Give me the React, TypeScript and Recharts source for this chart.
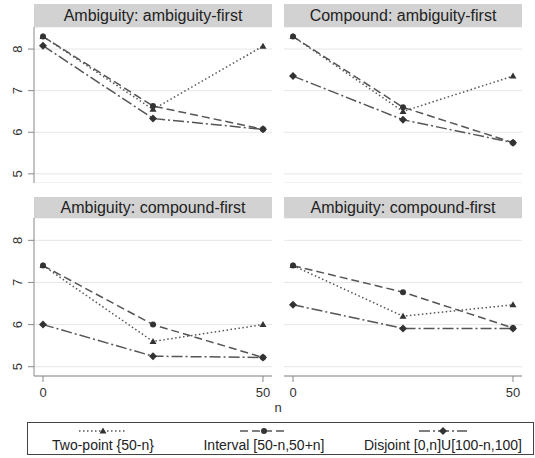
import React from "react";
import { LineChart, Line, XAxis, YAxis, CartesianGrid } from "recharts";

// n values on the x axis
const nValues = [0, 25, 50];
const xTicks = [0, 50];
const yTicks = [5, 6, 7, 8];

const panelTitles = [
  "Ambiguity: ambiguity-first",
  "Compound: ambiguity-first",
  "Ambiguity: compound-first",
  "Ambiguity: compound-first",
];

// one row per panel, values at n = 0, 25, 50
const twoPoint = [
  [8.3, 6.55, 8.07],
  [8.3, 6.5, 7.35],
  [7.4, 5.6, 6.0],
  [7.4, 6.2, 6.47],
];
const interval = [
  [8.3, 6.63, 6.07],
  [8.3, 6.6, 5.75],
  [7.4, 6.0, 5.22],
  [7.4, 6.77, 5.92],
];
const disjoint = [
  [8.08, 6.33, 6.07],
  [7.35, 6.3, 5.75],
  [6.0, 5.25, 5.22],
  [6.47, 5.91, 5.91],
];

const seriesNames = ["Two-point {50-n}", "Interval [50-n,50+n]", "Disjoint [0,n]U[100-n,100]"];

const LINE = "#555";
const MARK = "#333";
const AXIS = "#888";
const FONT = "'Liberation Sans', Arial, sans-serif";

const series = [
  { key: "twoPoint", name: seriesNames[0], dash: "1.5 2.5", marker: "triangle" },
  { key: "interval", name: seriesNames[1], dash: "8 4", marker: "circle" },
  { key: "disjoint", name: seriesNames[2], dash: "11 3 2 3", marker: "diamond" },
];

function Marker({ cx, cy, kind }: any) {
  if (cx == null || cy == null) return null;
  if (kind === "triangle") {
    return <path d={`M${cx},${cy - 3.5} L${cx + 3.5},${cy + 2.5} L${cx - 3.5},${cy + 2.5} Z`} fill={MARK} />;
  }
  if (kind === "diamond") {
    return <path d={`M${cx},${cy - 4} L${cx + 4},${cy} L${cx},${cy + 4} L${cx - 4},${cy} Z`} fill={MARK} />;
  }
  return <circle cx={cx} cy={cy} r={3} fill={MARK} />;
}

function YTick({ x, y, payload }: any) {
  const cx = x - 8;
  return (
    <text
      x={cx}
      y={y}
      transform={`rotate(-90 ${cx} ${y})`}
      textAnchor="middle"
      dominantBaseline="central"
      fontSize={13}
      fontFamily={FONT}
      fill="#333"
    >
      {payload.value}
    </text>
  );
}

function panelData(p: number) {
  return nValues.map((n, i) => ({
    n,
    twoPoint: twoPoint[p][i],
    interval: interval[p][i],
    disjoint: disjoint[p][i],
  }));
}

function Panel({ p, left, top, isLeft, isBottom }: any) {
  const chartLeft = isLeft ? 0 : left;
  const plotLeft = isLeft ? 34 : left;
  const plotW = 238;
  const headerTop = top;
  const headerH = isBottom ? 21 : 23;
  const chartTop = top + headerH;
  const plotH = isBottom ? 158 : 156;
  const axisH = isBottom ? 26 : 0;
  const width = isLeft ? plotW + 34 : plotW;
  return (
    <>
      <div
        style={{
          position: "absolute",
          left: plotLeft,
          top: headerTop,
          width: plotW,
          height: headerH,
          background: "#d2d2d2",
          fontFamily: FONT,
          fontSize: 16,
          color: "#222",
          textAlign: "center",
          lineHeight: `${headerH}px`,
        }}
      >
        {panelTitles[p]}
      </div>
      <div style={{ position: "absolute", left: chartLeft, top: chartTop }}>
        <LineChart
          width={width}
          height={plotH + axisH}
          data={panelData(p)}
          margin={{ top: 0, right: 0, bottom: 0, left: 0 }}
        >
          <CartesianGrid vertical={false} stroke="#e6e6e6" strokeWidth={1} />
          <XAxis
            dataKey="n"
            type="number"
            domain={[-2.05, 52.05]}
            ticks={xTicks}
            allowDataOverflow
            hide={!isBottom}
            height={axisH}
            stroke={AXIS}
            tickSize={6}
            tickMargin={6}
            tick={{ fill: "#333", fontSize: 13, fontFamily: FONT }}
          />
          <YAxis
            type="number"
            domain={[4.78, 8.53]}
            ticks={yTicks}
            allowDataOverflow
            hide={!isLeft}
            width={34}
            stroke={AXIS}
            tickSize={6}
            tick={<YTick />}
          />
          {series.map((s) => (
            <Line
              key={s.key}
              dataKey={s.key}
              name={s.name}
              stroke={LINE}
              strokeWidth={1.5}
              strokeDasharray={s.dash}
              dot={(props: any) => <Marker key={`${s.key}-${props.index}`} {...props} kind={s.marker} />}
              isAnimationActive={false}
            />
          ))}
        </LineChart>
      </div>
    </>
  );
}

function LegendSymbol({ s }: any) {
  return (
    <svg width={48} height={8} style={{ display: "block", margin: "0 auto" }}>
      <line x1={0} y1={4} x2={48} y2={4} stroke={LINE} strokeWidth={1.5} strokeDasharray={s.dash} />
      <Marker cx={24} cy={4} kind={s.marker} />
    </svg>
  );
}

const legendCenters = [75, 236, 415];

export default function App() {
  return (
    <div style={{ position: "absolute", left: 0, top: 0, width: 535, height: 458, background: "#fff", overflow: "hidden" }}>
      <Panel p={0} left={34} top={4} isLeft isBottom={false} />
      <Panel p={1} left={284} top={4} isLeft={false} isBottom={false} />
      <Panel p={2} left={34} top={197} isLeft isBottom />
      <Panel p={3} left={284} top={197} isLeft={false} isBottom />
      <div
        style={{
          position: "absolute",
          left: 0,
          width: 556,
          top: 400,
          textAlign: "center",
          fontFamily: FONT,
          fontSize: 13,
          color: "#333",
        }}
      >
        n
      </div>
      <div
        style={{
          position: "absolute",
          left: 27,
          top: 422,
          width: 507,
          height: 33,
          border: "1px solid #444",
          boxSizing: "border-box",
          fontFamily: FONT,
          fontSize: 14,
          color: "#222",
        }}
      >
        {series.map((s, i) => (
          <div
            key={s.key}
            style={{
              position: "absolute",
              left: legendCenters[i] - 90,
              width: 180,
              top: 4,
              textAlign: "center",
            }}
          >
            <LegendSymbol s={s} />
            <div style={{ marginTop: 2, lineHeight: "16px", whiteSpace: "nowrap" }}>{s.name}</div>
          </div>
        ))}
      </div>
    </div>
  );
}
